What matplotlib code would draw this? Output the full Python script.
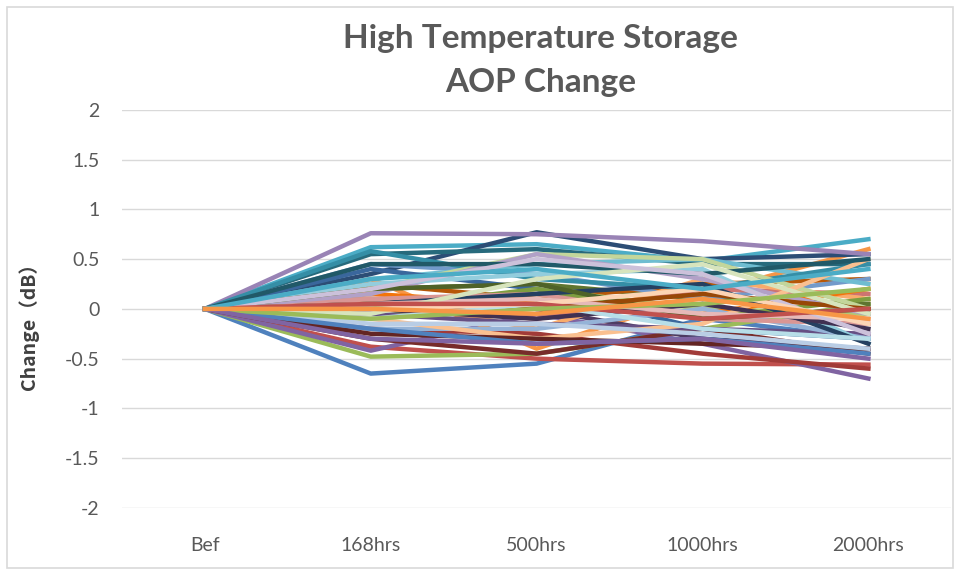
import matplotlib
matplotlib.use('Agg')
import matplotlib.pyplot as plt
from matplotlib.patches import Rectangle

# categories (x axis) and one list per time point, one entry per sample
categories = ['Bef', '168hrs', '500hrs', '1000hrs', '2000hrs']
bef = [0.0] * 48
h168 = [-0.65, -0.38, -0.48, -0.42, 0.62, 0.30, 0.35, -0.30, 0.20, 0.10,
        0.55, 0.25, 0.45, 0.05, -0.10, 0.76, 0.30, 0.10, 0.40, -0.20,
        0.00, -0.05, 0.58, 0.15, -0.20, 0.10, 0.20, 0.15, 0.25, -0.10,
        0.05, -0.25, 0.20, 0.00, 0.45, 0.05, -0.15, 0.05, -0.05, 0.20,
        -0.10, 0.00, -0.20, 0.05, -0.10, -0.30, 0.30, 0.00]
h500 = [-0.55, -0.50, -0.45, -0.05, 0.65, -0.40, 0.77, -0.45, 0.25, 0.00,
        0.60, 0.10, 0.35, -0.10, 0.20, 0.75, 0.45, -0.20, 0.20, -0.25,
        0.20, -0.15, 0.30, 0.05, -0.20, 0.15, 0.55, 0.55, 0.35, -0.30,
        0.15, -0.30, 0.25, -0.10, 0.45, 0.00, -0.15, 0.10, 0.30, 0.50,
        0.05, 0.05, -0.35, 0.05, 0.00, -0.35, 0.40, -0.05]
h1000 = [-0.10, -0.55, -0.20, -0.35, 0.48, 0.15, 0.50, -0.20, 0.10, -0.30,
         0.45, 0.25, 0.10, 0.20, 0.00, 0.68, 0.50, 0.30, -0.20, -0.45,
         -0.10, -0.20, 0.20, -0.05, 0.00, -0.10, 0.50, 0.30, 0.40, -0.15,
         0.25, -0.35, -0.10, 0.05, 0.35, 0.15, -0.25, -0.05, 0.45, 0.35,
         -0.20, 0.20, -0.30, -0.10, 0.05, -0.30, 0.20, 0.10]
h2000 = [-0.30, -0.56, 0.05, -0.70, 0.70, 0.60, 0.55, -0.45, 0.05, -0.40,
         0.45, 0.30, 0.30, 0.15, -0.05, 0.55, 0.25, 0.10, -0.30, -0.60,
         0.10, -0.25, 0.45, 0.20, -0.30, -0.15, 0.00, -0.05, -0.35, 0.50,
         -0.35, -0.40, 0.00, -0.20, 0.50, 0.00, -0.40, -0.10, -0.05, -0.25,
         -0.30, -0.15, -0.45, 0.00, 0.20, -0.50, 0.40, -0.10]

# Excel 2010 style series colours
palette = ['#4F81BD', '#C0504D', '#9BBB59', '#8064A2', '#4BACC6', '#F79646',
           '#2C4D75', '#772C2A', '#5F7530', '#4D3B62', '#276A7C', '#B65708',
           '#729ACA', '#CD7371', '#AFC97A', '#9983B5', '#6FBDD1', '#F9AB6B',
           '#3A679C', '#A13B38', '#7E9D40', '#664F83', '#358EA6', '#F3740B',
           '#95B3D7', '#D99694', '#C3D69B', '#B2A1C7', '#93CDDD', '#FAC090',
           '#254061', '#632523', '#4F6228', '#403152', '#215968', '#984807',
           '#B9CDE5', '#E6B9B8', '#D7E4BD', '#CCC1DA', '#B7DEE8', '#FCD5B5']

fig = plt.figure(figsize=(9.6, 5.72), dpi=100)
ax = fig.add_axes([0.127, 0.112, 0.864, 0.696])

xs = range(len(categories))
for i in range(len(h168)):
    ys = [bef[i], h168[i], h500[i], h1000[i], h2000[i]]
    ax.plot(xs, ys, color=palette[i % len(palette)], lw=3.2, zorder=3)

ax.set_xlim(-0.5, len(categories) - 0.5)
ax.set_ylim(-2, 2)
ax.set_yticks([-2, -1.5, -1, -0.5, 0, 0.5, 1, 1.5, 2])
ax.set_yticklabels(['-2', '-1.5', '-1', '-0.5', '0', '0.5', '1', '1.5', '2'])
ax.set_xticks(list(xs))
ax.set_xticklabels(categories)
ax.tick_params(axis='both', length=0, labelsize=14, labelcolor='#595959')
ax.tick_params(axis='y', pad=16)
ax.tick_params(axis='x', pad=21)
for lab in ax.get_xticklabels() + ax.get_yticklabels():
    lab.set_family('Lato')
ax.grid(axis='y', color='#D9D9D9', lw=1)
ax.set_axisbelow(True)
for s in ax.spines.values():
    s.set_visible(False)

fig.text(29 / 960, 1 - 322 / 572, 'Change（dB）', rotation=90, ha='center', va='center',
         family=['Noto Sans CJK SC', 'DejaVu Sans'], fontweight='bold', fontsize=14,
         color='#404040')

fig.text(0.563, 0.933, 'High Temperature Storage', ha='center', va='center',
         family='Lato', fontweight='bold', fontsize=24, color='#595959')
fig.text(0.563, 0.856, 'AOP Change', ha='center', va='center',
         family='Lato', fontweight='bold', fontsize=24, color='#595959')

fig.patches.append(Rectangle((7 / 960, 4 / 572), 946 / 960, 561 / 572, transform=fig.transFigure,
                             fill=False, edgecolor='#D9D9D9', lw=1.2))

fig.savefig('out.png', dpi=100, facecolor='white')
